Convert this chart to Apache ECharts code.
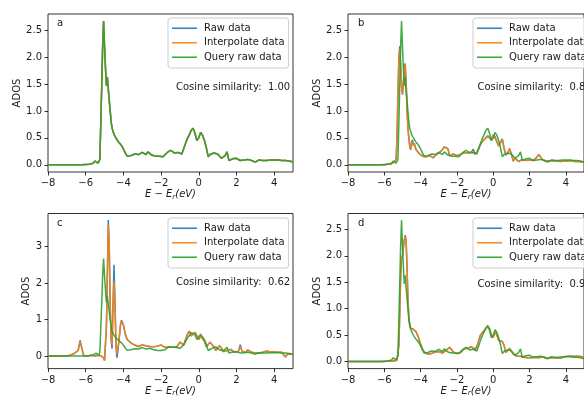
<!DOCTYPE html>
<html>
<head>
<meta charset="utf-8">
<script src="https://cdn.jsdelivr.net/npm/echarts@6/dist/echarts.min.js"></script>
<style>
  html, body { margin: 0; padding: 0; background: #fff; }
  #chart { width: 584px; height: 398px; }
</style>
</head>
<body>
<div id="chart"></div>
<script>
// Energy grid relative to the Fermi level (eV); finer around the d-band peak.
const energy = [
  -8.0, -7.5, -7.0,
  -6.9, -6.8, -6.7, -6.6, -6.5, -6.4, -6.3, -6.2, -6.1, -6.0,
  -5.9, -5.8, -5.7, -5.6, -5.5,
  -5.45, -5.4, -5.35, -5.3, -5.25, -5.2, -5.15, -5.1, -5.05, -5.0,
  -4.95, -4.9, -4.85, -4.8, -4.75, -4.7, -4.65, -4.6, -4.55, -4.5,
  -4.45, -4.4, -4.35, -4.3, -4.25, -4.2, -4.15, -4.1, -4.05, -4.0,
  -3.9, -3.8, -3.7, -3.6, -3.5, -3.4, -3.3, -3.2, -3.1, -3.0,
  -2.9, -2.8, -2.7, -2.6, -2.5, -2.4, -2.3, -2.2, -2.1, -2.0,
  -1.9, -1.8, -1.7, -1.6, -1.5, -1.4, -1.3, -1.2, -1.1, -1.0,
  -0.9, -0.8, -0.7, -0.6, -0.5, -0.4, -0.3, -0.2, -0.1, 0.0,
  0.1, 0.2, 0.3, 0.4, 0.5, 0.6, 0.7, 0.8, 0.9, 1.0,
  1.1, 1.2, 1.3, 1.4, 1.5, 1.6, 1.7, 1.8, 1.9, 2.0,
  2.1, 2.2, 2.3, 2.4, 2.5, 2.6, 2.7, 2.8, 2.9, 3.0,
  3.1, 3.2, 3.3, 3.4, 3.5, 3.6, 3.7, 3.8, 3.9, 4.0,
  4.1, 4.2, 4.3, 4.4, 4.5, 4.6, 4.7, 4.8, 4.9, 5.0
];

// Query structure: raw ADOS (same curve in every panel)
const queryRaw = [
  0, 0, 0,
  0, 0, 0, 0, 0, 0, 0, 0, 0.005, 0.005,
  0.008, 0.01, 0.015, 0.03, 0.07,
  0.08, 0.06, 0.03, 0.02, 0.1, 0.75, 1.45, 2.2, 2.67, 2.2,
  1.8, 1.47, 1.63, 1.4, 1.2, 1.0, 0.8, 0.68, 0.62, 0.57,
  0.53, 0.5, 0.47, 0.44, 0.42, 0.41, 0.38, 0.36, 0.33, 0.3,
  0.22, 0.16, 0.16, 0.17, 0.19, 0.2, 0.21, 0.19, 0.22, 0.23,
  0.2, 0.19, 0.24, 0.21, 0.18, 0.17, 0.16, 0.15, 0.16, 0.15,
  0.15, 0.17, 0.22, 0.25, 0.27, 0.24, 0.22, 0.24, 0.23, 0.21,
  0.2, 0.3, 0.4, 0.49, 0.56, 0.64, 0.68, 0.58, 0.45, 0.5,
  0.6, 0.55, 0.45, 0.32, 0.15, 0.19, 0.21, 0.22, 0.25, 0.2,
  0.17, 0.12, 0.14, 0.17, 0.24, 0.08, 0.1, 0.11, 0.1, 0.12,
  0.1, 0.08, 0.09, 0.09, 0.09, 0.1, 0.12, 0.08, 0.07, 0.05,
  0.08, 0.09, 0.1, 0.08, 0.07, 0.08, 0.08, 0.09, 0.1, 0.09,
  0.09, 0.09, 0.09, 0.08, 0.09, 0.08, 0.07, 0.07, 0.06, 0.05
];

// Panel a: the matched entry is the query itself
const rawA = queryRaw;
const interpA = queryRaw;

// Panel b
const rawB = [
  0, 0, 0,
  0, 0, 0, 0, 0, 0, 0, 0, 0, 0,
  0.005, 0.01, 0.01, 0.02, 0.03,
  0.05, 0.06, 0.1, 0.5, 1.3, 1.97, 2.2, 1.87, 1.45, 1.3,
  1.5, 1.84, 1.88, 1.55, 1.05, 0.7, 0.5, 0.34, 0.28, 0.42,
  0.46, 0.36, 0.4, 0.33, 0.28, 0.25, 0.24, 0.22, 0.2, 0.19,
  0.16, 0.14, 0.15, 0.14, 0.17, 0.16, 0.13, 0.17, 0.2, 0.22,
  0.22, 0.28, 0.33, 0.36, 0.3, 0.17, 0.14, 0.2, 0.18, 0.17,
  0.18, 0.19, 0.21, 0.23, 0.26, 0.22, 0.2, 0.24, 0.29, 0.2,
  0.24, 0.3, 0.38, 0.43, 0.47, 0.5, 0.54, 0.5, 0.46, 0.56,
  0.52, 0.43, 0.35, 0.38, 0.48, 0.3, 0.18, 0.22, 0.3, 0.2,
  0.07, 0.12, 0.15, 0.06, 0.09, 0.1, 0.09, 0.08, 0.08, 0.09,
  0.08, 0.08, 0.1, 0.14, 0.19, 0.22, 0.1, 0.09, 0.07, 0.06,
  0.07, 0.08, 0.08, 0.08, 0.07, 0.06, 0.06, 0.06, 0.07, 0.08,
  0.07, 0.07, 0.08, 0.07, 0.06, 0.06, 0.06, 0.05, 0.05, 0.05
];
const interpB = [
  0, 0, 0,
  0, 0, 0, 0, 0, 0, 0, 0, 0, 0,
  0.005, 0.01, 0.01, 0.02, 0.03,
  0.05, 0.06, 0.1, 0.5, 1.3, 1.95, 2.15, 1.85, 1.45, 1.32,
  1.5, 1.82, 1.86, 1.55, 1.05, 0.7, 0.5, 0.35, 0.29, 0.42,
  0.45, 0.36, 0.4, 0.33, 0.28, 0.25, 0.24, 0.22, 0.2, 0.19,
  0.16, 0.14, 0.15, 0.14, 0.17, 0.16, 0.13, 0.17, 0.2, 0.22,
  0.22, 0.28, 0.33, 0.36, 0.3, 0.17, 0.14, 0.2, 0.18, 0.17,
  0.18, 0.19, 0.21, 0.23, 0.26, 0.22, 0.2, 0.24, 0.27, 0.2,
  0.24, 0.3, 0.38, 0.43, 0.47, 0.5, 0.52, 0.5, 0.46, 0.55,
  0.52, 0.43, 0.35, 0.38, 0.47, 0.3, 0.18, 0.22, 0.3, 0.2,
  0.07, 0.12, 0.15, 0.06, 0.09, 0.1, 0.09, 0.08, 0.08, 0.09,
  0.08, 0.08, 0.1, 0.14, 0.19, 0.21, 0.1, 0.09, 0.07, 0.06,
  0.07, 0.08, 0.08, 0.08, 0.07, 0.06, 0.06, 0.06, 0.07, 0.08,
  0.07, 0.07, 0.08, 0.07, 0.06, 0.06, 0.06, 0.05, 0.05, 0.05
];

// Panel c
const rawC = [
  0, 0, 0,
  0.01, 0.03, 0.06, 0.07, 0.06, 0.15, 0.43, 0.2, 0.0, 0.01,
  0.0, 0.01, 0.02, 0.01, 0.0,
  0.0, 0.01, 0.02, 0.02, 0.02, 0.01, 0.0, -0.02, -0.05, -0.12,
  -0.15, 0.8, 2.25, 3.72, 3.0, 1.4, 0.45, 0.2, 1.4, 2.5,
  1.6, 0.4, -0.05, 0.1, 0.35, 0.6, 0.86, 0.98, 0.95, 0.85,
  0.6, 0.45, 0.4, 0.36, 0.33, 0.3, 0.28, 0.26, 0.27, 0.3,
  0.35, 0.28, 0.3, 0.26, 0.28, 0.25, 0.28, 0.27, 0.32, 0.3,
  0.27, 0.24, 0.22, 0.24, 0.27, 0.25, 0.28, 0.23, 0.3, 0.38,
  0.33, 0.3, 0.45, 0.6, 0.68, 0.55, 0.5, 0.65, 0.55, 0.45,
  0.55, 0.6, 0.4, 0.25, 0.28, 0.38, 0.41, 0.25, 0.15, 0.2,
  0.28, 0.22, 0.12, 0.13, 0.15, 0.12, 0.18, 0.15, 0.1, 0.08,
  0.12, 0.31, 0.12, 0.08, 0.1, 0.17, 0.14, 0.1, 0.1, 0.08,
  0.07, 0.08, 0.09, 0.1, 0.12, 0.14, 0.12, 0.11, 0.12, 0.11,
  0.1, 0.1, 0.1, 0.1, 0.05, -0.03, 0.05, 0.06, 0.05, 0.05
];
const interpC = [
  0, 0, 0,
  0.01, 0.03, 0.06, 0.07, 0.06, 0.15, 0.4, 0.2, 0.0, 0.01,
  0.0, 0.01, 0.02, 0.01, 0.0,
  0.0, 0.01, 0.02, 0.02, 0.02, 0.01, 0.0, -0.02, -0.05, -0.12,
  -0.14, 0.8, 2.2, 3.6, 3.0, 1.4, 0.5, 0.3, 1.3, 2.05,
  1.5, 0.5, 0.05, 0.1, 0.35, 0.6, 0.85, 0.95, 0.93, 0.85,
  0.6, 0.45, 0.4, 0.36, 0.33, 0.3, 0.28, 0.26, 0.27, 0.3,
  0.35, 0.28, 0.3, 0.26, 0.28, 0.25, 0.28, 0.27, 0.32, 0.3,
  0.27, 0.24, 0.22, 0.24, 0.27, 0.25, 0.28, 0.23, 0.3, 0.38,
  0.33, 0.3, 0.45, 0.6, 0.67, 0.55, 0.5, 0.65, 0.55, 0.45,
  0.55, 0.6, 0.4, 0.25, 0.28, 0.38, 0.4, 0.25, 0.15, 0.2,
  0.28, 0.22, 0.12, 0.13, 0.15, 0.12, 0.18, 0.15, 0.1, 0.08,
  0.12, 0.27, 0.12, 0.08, 0.1, 0.17, 0.14, 0.1, 0.1, 0.08,
  0.07, 0.08, 0.09, 0.1, 0.12, 0.14, 0.12, 0.11, 0.12, 0.11,
  0.1, 0.1, 0.1, 0.1, 0.05, -0.03, 0.05, 0.06, 0.05, 0.05
];

// Panel d
const rawD = [
  0, 0, 0,
  0, 0, 0, 0, 0, 0, 0, 0, 0, 0,
  0.005, 0.01, 0.01, 0.01, 0.01,
  0.01, 0.02, 0.02, 0.03, 0.05, 0.3, 0.9, 1.6, 1.95, 2.0,
  2.15, 2.3, 2.39, 2.3, 1.8, 1.2, 0.85, 0.7, 0.63, 0.6,
  0.6, 0.61, 0.62, 0.6, 0.56, 0.52, 0.48, 0.44, 0.38, 0.33,
  0.24, 0.18, 0.16, 0.14, 0.13, 0.15, 0.16, 0.18, 0.2, 0.19,
  0.17, 0.16, 0.18, 0.21, 0.24, 0.27, 0.25, 0.18, 0.16, 0.15,
  0.15, 0.17, 0.2, 0.24, 0.26, 0.25, 0.26, 0.28, 0.3, 0.22,
  0.28, 0.4, 0.5, 0.55, 0.58, 0.62, 0.66, 0.62, 0.5, 0.46,
  0.56, 0.5, 0.4, 0.37, 0.38, 0.3, 0.17, 0.2, 0.25, 0.2,
  0.14, 0.12, 0.1, 0.11, 0.1, 0.09, 0.08, 0.09, 0.07, 0.08,
  0.07, 0.07, 0.08, 0.08, 0.07, 0.08, 0.09, 0.07, 0.07, 0.07,
  0.07, 0.06, 0.07, 0.06, 0.06, 0.07, 0.06, 0.07, 0.09, 0.11,
  0.1, 0.09, 0.1, 0.1, 0.1, 0.09, 0.1, 0.09, 0.09, 0.09
];
const interpD = [
  0, 0, 0,
  0, 0, 0, 0, 0, 0, 0, 0, 0, 0,
  0.005, 0.01, 0.01, 0.01, 0.01,
  0.01, 0.02, 0.02, 0.03, 0.05, 0.3, 0.9, 1.6, 1.95, 2.0,
  2.15, 2.3, 2.37, 2.3, 1.8, 1.2, 0.85, 0.7, 0.63, 0.6,
  0.6, 0.61, 0.62, 0.6, 0.56, 0.52, 0.48, 0.44, 0.38, 0.33,
  0.24, 0.18, 0.16, 0.14, 0.13, 0.15, 0.16, 0.18, 0.2, 0.19,
  0.17, 0.16, 0.18, 0.21, 0.24, 0.27, 0.25, 0.18, 0.16, 0.15,
  0.15, 0.17, 0.2, 0.24, 0.26, 0.25, 0.26, 0.28, 0.24, 0.22,
  0.28, 0.4, 0.5, 0.55, 0.57, 0.62, 0.66, 0.62, 0.5, 0.46,
  0.56, 0.5, 0.4, 0.37, 0.38, 0.3, 0.17, 0.2, 0.25, 0.2,
  0.14, 0.12, 0.1, 0.11, 0.1, 0.09, 0.08, 0.09, 0.07, 0.08,
  0.07, 0.07, 0.08, 0.08, 0.07, 0.08, 0.09, 0.07, 0.07, 0.07,
  0.07, 0.06, 0.07, 0.06, 0.06, 0.07, 0.06, 0.07, 0.09, 0.11,
  0.1, 0.09, 0.1, 0.1, 0.1, 0.09, 0.1, 0.09, 0.09, 0.09
];

const panelLabels = ['a', 'b', 'c', 'd'];
const similarities = ['1.00', '0.86', '0.62', '0.95'];
const seriesNames = ['Raw data', 'Interpolate data', 'Query raw data'];
const xTicks = [-8, -6, -4, -2, 0, 2, 4];
const yTicksFine = [0, 0.5, 1.0, 1.5, 2.0, 2.5];
const yTicksCoarse = [0, 1, 2, 3];

const panelData = [
  [rawA, interpA, queryRaw],
  [rawB, interpB, queryRaw],
  [rawC, interpC, queryRaw],
  [rawD, interpD, queryRaw]
];

const colors = ['#1f77b4', '#ff7f0e', '#2ca02c'];
const FONT = 'DejaVu Sans';
const textColor = '#1a1a1a';

// Plot-area geometry for the 2x2 layout
const grids = [
  { left: 48, top: 14, width: 245, height: 158 },
  { left: 348, top: 14, width: 245, height: 158 },
  { left: 48, top: 213.5, width: 245, height: 158.5 },
  { left: 348, top: 213.5, width: 245, height: 158.5 }
];
const yRanges = [
  [-0.134, 2.80],
  [-0.134, 2.80],
  [-0.345, 3.90],
  [-0.134, 2.80]
];
const legendPos = [
  { left: 168, top: 18 },
  { left: 473, top: 18 },
  { left: 168, top: 218 },
  { left: 473, top: 218 }
];
const cosPos = [
  { left: 176, top: 82 },
  { left: 477.5, top: 82 },
  { left: 176, top: 277.5 },
  { left: 477.5, top: 279.5 }
];
const labelPos = [
  { left: 57, top: 18 },
  { left: 358, top: 18 },
  { left: 57, top: 218 },
  { left: 358, top: 218 }
];
const yNameGap = [26, 26, 16, 26];

const minusFmt = v => String(v).replace('-', '\u2212');

const option = {
  animation: false,
  backgroundColor: '#fff',
  textStyle: { fontFamily: FONT },
  grid: grids.map(g => Object.assign({
    show: true, borderColor: '#000', borderWidth: 0.8, backgroundColor: 'transparent',
    containLabel: false
  }, g)),
  xAxis: grids.map((g, i) => ({
    type: 'value', gridIndex: i, min: -8, max: 5,
    name: '{it|E \u2212 E}{sub|r}{it|(eV)}',
    nameLocation: 'middle', nameGap: 15,
    nameTextStyle: {
      rich: {
        it: { fontFamily: FONT, fontStyle: 'italic', fontSize: 10, color: textColor },
        sub: { fontFamily: FONT, fontStyle: 'italic', fontSize: 7, color: textColor, padding: [5, 0, 0, 0] }
      }
    },
    axisLine: { show: false, onZero: false },
    splitLine: { show: false },
    axisTick: { show: true, inside: false, length: 3.5, customValues: xTicks, lineStyle: { color: '#000', width: 0.8 } },
    axisLabel: { customValues: xTicks, formatter: minusFmt, margin: 6.5, fontSize: 10, color: textColor, fontFamily: FONT }
  })),
  yAxis: grids.map((g, i) => {
    const ticks = i === 2 ? yTicksCoarse : yTicksFine;
    return {
      type: 'value', gridIndex: i, min: yRanges[i][0], max: yRanges[i][1],
      name: 'ADOS', nameLocation: 'middle', nameGap: yNameGap[i], nameRotate: 90,
      nameTextStyle: { fontSize: 10, color: textColor, fontFamily: FONT },
      axisLine: { show: false, onZero: false },
      splitLine: { show: false },
      axisTick: { show: true, inside: false, length: 3.5, customValues: ticks, lineStyle: { color: '#000', width: 0.8 } },
      axisLabel: {
        customValues: ticks, margin: 6, fontSize: 10, color: textColor, fontFamily: FONT,
        formatter: v => (i === 2 ? String(v) : v.toFixed(1))
      }
    };
  }),
  legend: legendPos.map(p => ({
    data: seriesNames.map(n => ({ name: n, icon: 'rect' })),
    orient: 'vertical',
    left: p.left, top: p.top,
    itemWidth: 25, itemHeight: 1.6, itemGap: 3,
    padding: [4.5, 4, 5, 4],
    backgroundColor: 'rgba(255,255,255,0.8)',
    borderColor: '#cccccc', borderWidth: 1, borderRadius: 3,
    textStyle: { fontSize: 10, lineHeight: 11.5, color: textColor, fontFamily: FONT, padding: [0, 0, 0, 2] }
  })),
  graphic: [
    ...panelLabels.map((t, i) => ({
      type: 'text', left: labelPos[i].left, top: labelPos[i].top, z: 100,
      style: { text: t, font: '10px "DejaVu Sans"', fill: textColor }
    })),
    ...similarities.map((s, i) => ({
      type: 'text', left: cosPos[i].left, top: cosPos[i].top, z: 100,
      style: { text: 'Cosine similarity:  ' + s, font: '10px "DejaVu Sans"', fill: textColor }
    }))
  ],
  series: []
};

panelData.forEach((sets, p) => {
  sets.forEach((vals, k) => {
    option.series.push({
      type: 'line',
      name: seriesNames[k],
      xAxisIndex: p, yAxisIndex: p,
      data: energy.map((e, j) => [e, vals[j]]),
      symbol: 'none',
      showSymbol: false,
      clip: true,
      z: 2 + k,
      lineStyle: { color: colors[k], width: 1.5, opacity: 0.9 },
      itemStyle: { color: colors[k], opacity: 0.9 }
    });
  });
});

const chart = echarts.init(document.getElementById('chart'), null, { renderer: 'canvas' });
chart.setOption(option);
</script>
</body>
</html>
